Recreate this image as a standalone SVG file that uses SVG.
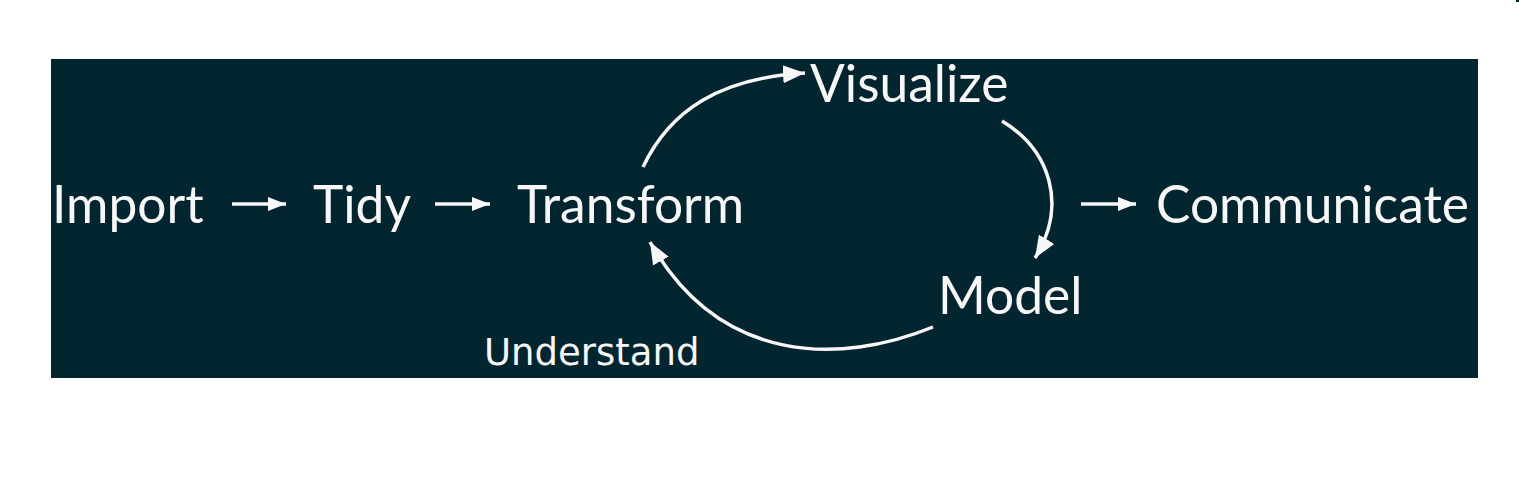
<svg xmlns="http://www.w3.org/2000/svg" width="1519" height="489" viewBox="0 0 1519 489">
<style>
.lbl{font-family:Lato,"Open Sans","Noto Sans",sans-serif;fill:#f7f7f7;font-size:51.5px}
.sm{font-family:"DejaVu Sans","Noto Sans",sans-serif;font-size:37px}
.c{fill:none;stroke:#f7f7f7;stroke-width:3.5}
</style>
<defs>
<marker id="ah" markerUnits="userSpaceOnUse" markerWidth="20" markerHeight="20" viewBox="0 0 20 20" refX="18" refY="10" orient="auto">
<path d="M0,3 L18,10 L0,17 Z" fill="#f7f7f7"/>
</marker>
<marker id="ah2" markerUnits="userSpaceOnUse" markerWidth="24" markerHeight="24" viewBox="0 0 24 24" refX="22" refY="12" orient="auto">
<path d="M0,3 L22,12 L0,21 Z" fill="#f7f7f7"/>
</marker>
</defs>
<rect x="0" y="0" width="1519" height="489" fill="#ffffff"/>
<rect x="51" y="59" width="1427" height="319" fill="#03252f"/>
<rect x="1516" y="0" width="3" height="2" fill="#03252f"/>
<g id="connectors">
<path class="c" d="M232,204 H286" marker-end="url(#ah)"/>
<path class="c" d="M435,204 H490" marker-end="url(#ah)"/>
<path class="c" d="M1081,204 H1136" marker-end="url(#ah)"/>
<path class="c" d="M643,167 C670,110 720,78 805,73" marker-end="url(#ah2)"/>
<path class="c" d="M1002,121 C1050,150 1068,205 1035,258" marker-end="url(#ah2)"/>
<path class="c" d="M933,327 C840,365 720,365 650,242" marker-end="url(#ah2)"/>
</g>
<g id="import"><text class="lbl" x="52" y="223">Import</text></g>
<g id="tidy"><text class="lbl" x="313" y="223">Tidy</text></g>
<g id="transform"><text class="lbl" x="517" y="223">Transform</text></g>
<g id="visualize"><text class="lbl" x="810" y="102">Visualize</text></g>
<g id="model"><text class="lbl" x="938" y="314">Model</text></g>
<g id="communicate"><text class="lbl" x="1156" y="223">Communicate</text></g>
<g id="understand"><text class="lbl sm" x="484" y="365">Understand</text></g>
</svg>
